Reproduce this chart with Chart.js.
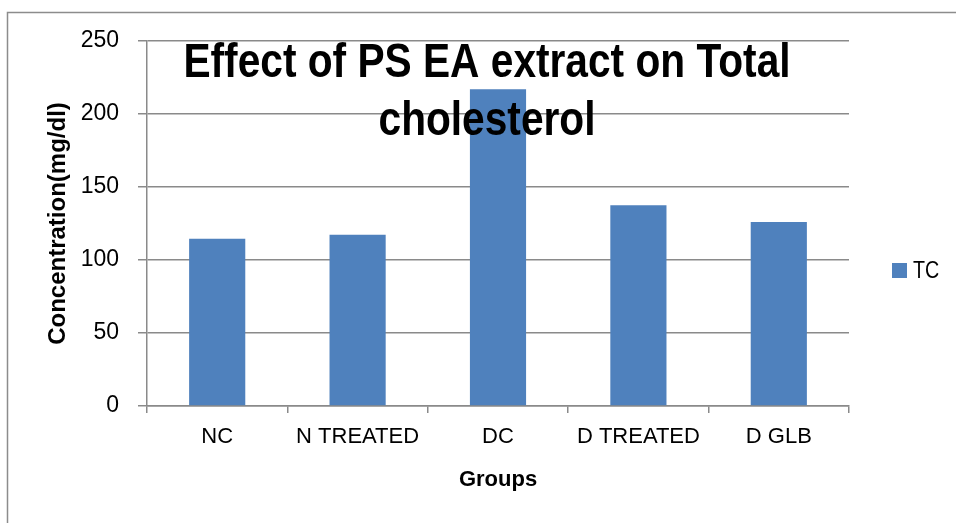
<!DOCTYPE html>
<html>
<head>
<meta charset="utf-8">
<script src="https://cdn.jsdelivr.net/npm/chart.js@4/dist/chart.umd.min.js"></script>
<style>
  html, body { margin: 0; padding: 0; background: #ffffff; }
  #wrap { width: 956px; height: 523px; position: relative; }
</style>
</head>
<body>
<div id="wrap"><canvas id="c" width="956" height="523"></canvas></div>
<script>
const categories = ["NC", "N TREATED", "DC", "D TREATED", "D GLB"];
const tcValues = [114.5, 117.3, 216.9, 137.5, 126];
const seriesName = "TC";
const titleLines = ["Effect of PS EA extract on Total", "cholesterol"];
const yAxisTitle = "Concentration(mg/dl)";
const xAxisTitle = "Groups";
const yMin = 0, yMax = 250, yStep = 50;

const NARROW = "'Liberation Sans Narrow', 'Arial Narrow', 'Liberation Sans', sans-serif";
const WIDE = "'Liberation Sans', Arial, sans-serif";
const GRID = "#8a8a8a";
const BAR = "#4F81BD";

function narrowText(ctx, text, x, y, sx) {
  ctx.save();
  ctx.translate(x, y);
  ctx.scale(sx, 1);
  ctx.fillText(text, 0, 0);
  ctx.restore();
}

const decor = {
  id: "decor",
  beforeDraw(chart) {
    const ctx = chart.ctx;
    ctx.save();
    ctx.strokeStyle = "#8c8c8c";
    ctx.lineWidth = 1.5;
    ctx.strokeRect(7.5, 12.5, 1200, 1200);
    ctx.restore();
  },
  afterDraw(chart) {
    const ctx = chart.ctx;
    ctx.save();
    ctx.fillStyle = "#000";
    ctx.textAlign = "center";
    ctx.textBaseline = "alphabetic";
    ctx.font = "bold 49px " + WIDE;
    narrowText(ctx, titleLines[0], 487, 77, 0.83);
    narrowText(ctx, titleLines[1], 487, 135, 0.83);
    // legend
    ctx.fillStyle = BAR;
    ctx.fillRect(892, 263, 15, 15);
    ctx.fillStyle = "#000";
    ctx.textAlign = "left";
    ctx.textBaseline = "middle";
    ctx.font = "24px " + WIDE;
    narrowText(ctx, seriesName, 913, 271, 0.82);
    ctx.restore();
  }
};

new Chart(document.getElementById("c"), {
  type: "bar",
  data: {
    labels: categories,
    datasets: [{
      label: seriesName,
      data: tcValues,
      backgroundColor: BAR,
      borderWidth: 0,
      barPercentage: 0.4,
      categoryPercentage: 1.0
    }]
  },
  options: {
    responsive: false,
    animation: false,
    events: [],
    layout: { padding: { left: 0, top: 41, right: 107, bottom: 0 } },
    plugins: {
      legend: { display: false },
      title: { display: false },
      tooltip: { enabled: false }
    },
    scales: {
      y: {
        min: yMin, max: yMax,
        ticks: { stepSize: yStep, color: "#000", padding: 19, font: { family: NARROW, size: 23 } },
        grid: { color: GRID, lineWidth: 1.5, tickLength: 9, drawTicks: true },
        border: { color: GRID, width: 1.5 },
        title: { display: true, text: yAxisTitle, color: "#000", font: { family: WIDE, size: 24, weight: "bold" }, padding: { top: 44, bottom: 0 } },
        afterFit(s) { s.width = 147; s.paddingTop = 0; s.paddingBottom = 0; }
      },
      x: {
        ticks: { color: "#000", padding: 11, maxRotation: 0, autoSkip: false, font: { family: NARROW, size: 22 } },
        grid: { offset: true, drawOnChartArea: false, color: GRID, lineWidth: 1.5, tickLength: 7 },
        border: { color: GRID, width: 1.5 },
        title: { display: true, text: xAxisTitle, color: "#000", font: { family: WIDE, size: 22, weight: "bold" }, padding: { top: 0, bottom: 30 } },
        afterFit(s) { s.height = 117; s.paddingLeft = 0; s.paddingRight = 0; }
      }
    }
  },
  plugins: [decor]
});
</script>
</body>
</html>
